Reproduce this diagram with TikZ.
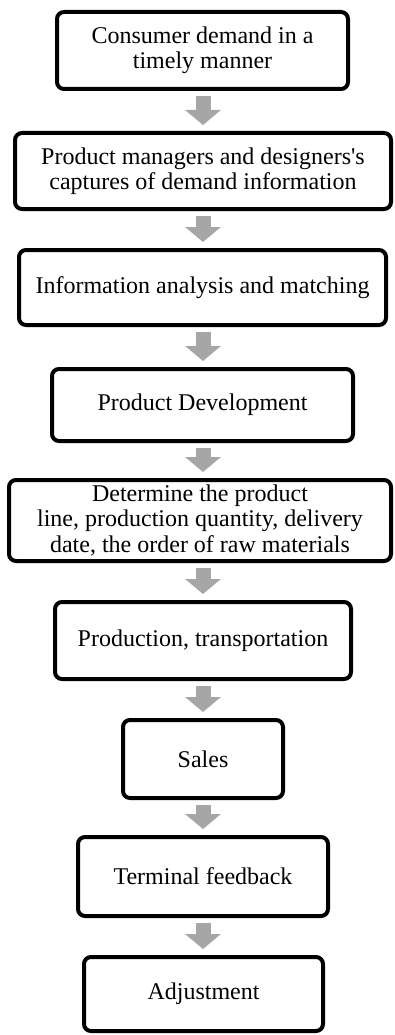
\documentclass[tikz,border=0pt]{standalone}
\usepackage{fontspec}
\setmainfont{Liberation Serif}
\usetikzlibrary{arrows.meta}
\definecolor{arrowgray}{HTML}{A6A6A6}
\tikzset{
  stepbox/.style={draw=black, line width=4pt, rounded corners=7pt, fill=white,
    align=center, inner sep=0pt, font=\fontsize{24}{25.5}\selectfont},
  flowarrow/.style={draw=arrowgray, line width=15pt,
    -{Triangle[width=35pt,length=15pt]}, shorten <=5pt, shorten >=6pt}
}
\begin{document}
\begin{tikzpicture}[x=1pt,y=-1pt]
\useasboundingbox (0,0) rectangle (394,1035);
\node[stepbox, minimum width=291pt, minimum height=77pt] (b1) at (202.5,50.5) {Consumer demand in a\\timely manner};
\node[stepbox, minimum width=376pt, minimum height=76pt] (b2) at (203,171) {Product managers and designers\textquotesingle s\\captures of demand information};
\node[stepbox, minimum width=367pt, minimum height=75pt] (b3) at (202.5,287.5) {Information analysis and matching};
\node[stepbox, minimum width=301pt, minimum height=72pt] (b4) at (202.5,405) {Product Development};
\node[stepbox, minimum width=382pt, minimum height=81pt] (b5) at (200,520.5) {Determine the product\\line, production quantity, delivery\\date, the order of raw materials};
\node[stepbox, minimum width=296pt, minimum height=77pt] (b6) at (203,640.5) {Production, transportation};
\node[stepbox, minimum width=160pt, minimum height=78pt] (b7) at (203,759) {Sales};
\node[stepbox, minimum width=250pt, minimum height=79pt] (b8) at (203,876.5) {Terminal feedback};
\node[stepbox, minimum width=239pt, minimum height=74pt] (b9) at (203.5,994) {Adjustment};
\foreach \a/\b in {b1/b2,b2/b3,b3/b4,b4/b5,b5/b6,b6/b7,b7/b8,b8/b9}
  \draw[flowarrow] (\a.south -| 203,0) -- (\b.north -| 203,0);
\end{tikzpicture}
\end{document}
